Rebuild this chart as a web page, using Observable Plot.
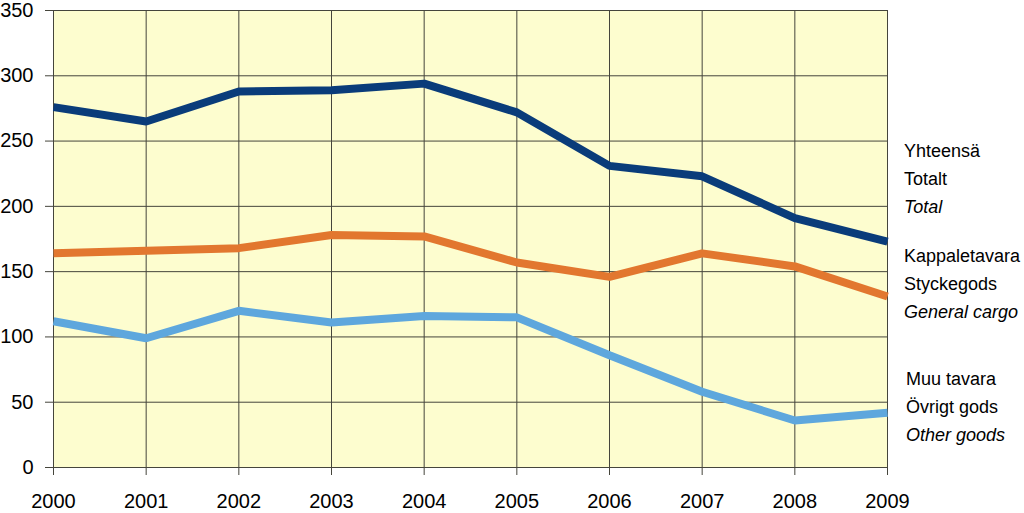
<!DOCTYPE html>
<html>
<head>
<meta charset="utf-8">
<script src="https://cdn.jsdelivr.net/npm/d3@7"></script>
<script src="https://cdn.jsdelivr.net/npm/@observablehq/plot@0.6"></script>
<style>
  html, body { margin: 0; padding: 0; background: #ffffff; }
  #wrap { position: relative; width: 1024px; height: 513px; overflow: hidden; font-family: "Liberation Sans", Arial, sans-serif; }
  .leg { position: absolute; font-size: 18px; line-height: 28px; color: #000; white-space: nowrap; }
  .leg i { font-style: italic; }
</style>
</head>
<body>
<div id="wrap"></div>
<script>
const years = [2000, 2001, 2002, 2003, 2004, 2005, 2006, 2007, 2008, 2009];
const total = [276, 265, 288, 289, 294, 272, 231, 223, 191, 173];
const generalCargo = [164, 166, 168, 178, 177, 157, 146, 164, 154, 131];
const otherGoods = [112, 99, 120, 111, 116, 115, 86, 58, 36, 42];
const yTicks = [0, 50, 100, 150, 200, 250, 300, 350];
const seriesNames = ["Total", "General cargo", "Other goods"];
const seriesColors = ["#0a3c7a", "#e2772f", "#5ea7dd"];
const legendGroups = [
  ["Yhteensä", "Totalt", "Total"],
  ["Kappaletavara", "Styckegods", "General cargo"],
  ["Muu tavara", "Övrigt gods", "Other goods"]
];

const seriesValues = [total, generalCargo, otherGoods];
const data = [];
seriesNames.forEach((s, i) => years.forEach((y, j) => data.push({series: s, year: y, value: seriesValues[i][j]})));

const chart = Plot.plot({
  width: 1024,
  height: 513,
  marginLeft: 53,
  marginRight: 137,
  marginTop: 10,
  marginBottom: 46,
  style: {fontFamily: "'Liberation Sans', Arial, sans-serif", fontSize: "20px", color: "#000", background: "transparent", overflow: "visible"},
  x: {domain: [2000, 2009], ticks: years, tickFormat: "d", label: null},
  y: {domain: [0, 350], ticks: yTicks, label: null},
  color: {domain: seriesNames, range: seriesColors},
  marks: [
    Plot.frame({fill: "#fdfdcf", stroke: null}),
    Plot.gridX(years, {stroke: "#45453c", strokeOpacity: 1, strokeWidth: 1}),
    Plot.gridY(yTicks, {stroke: "#45453c", strokeOpacity: 1, strokeWidth: 1}),
    Plot.axisX({ticks: years, tickFormat: "d", tickSize: 8, tickPadding: 18, stroke: "#45453c", fontSize: 20, label: null}),
    Plot.axisY({ticks: yTicks, tickSize: 8, tickPadding: 12, stroke: "#45453c", fontSize: 20, label: null}),
    Plot.line(data, {x: "year", y: "value", z: "series", stroke: "series", strokeWidth: 8, strokeLinejoin: "miter", strokeLinecap: "butt"})
  ]
});
const wrap = document.getElementById("wrap");
wrap.appendChild(chart);

const legTops = [137, 242, 365];
const legLefts = [904, 904, 906];
legendGroups.forEach((g, i) => {
  const d = document.createElement("div");
  d.className = "leg";
  d.style.top = legTops[i] + "px";
  d.style.left = legLefts[i] + "px";
  d.innerHTML = g[0] + "<br>" + g[1] + "<br><i>" + g[2] + "</i>";
  wrap.appendChild(d);
});
</script>
</body>
</html>
